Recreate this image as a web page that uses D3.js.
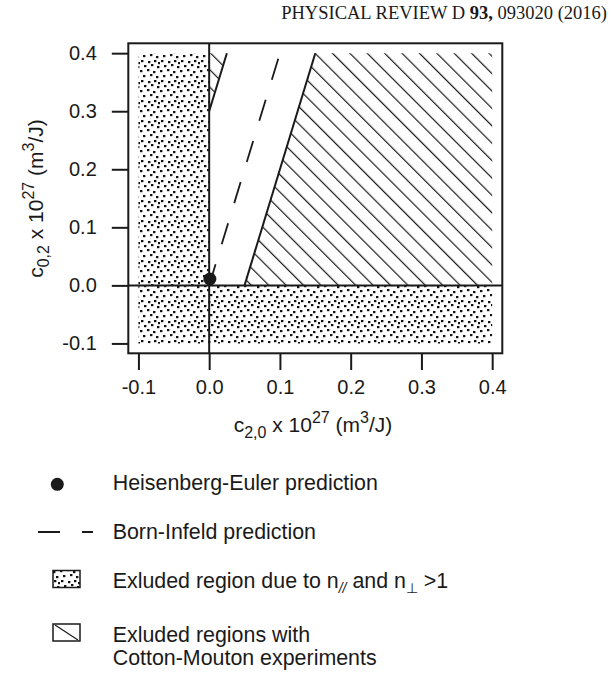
<!DOCTYPE html>
<html>
<head>
<meta charset="utf-8">
<script src="https://cdn.jsdelivr.net/npm/d3@7"></script>
<style>
    body { margin: 0; background: #fff; }
    text { font-family: "Liberation Sans", Arial, Helvetica, sans-serif; fill: #1a1a1a; }
    .header { font-family: "Liberation Serif", "Times New Roman", serif; }
</style>
</head>
<body>
<script>
//chart values (units of 10^-27 m^3/J)
var xTicks = [-0.1, 0.0, 0.1, 0.2, 0.3, 0.4];
var xTickLabels = ["-0.1", "0.0", "0.1", "0.2", "0.3", "0.4"];
var yTicks = [-0.1, 0.0, 0.1, 0.2, 0.3, 0.4];
var yTickLabels = ["-0.1", "0.0", "0.1", "0.2", "0.3", "0.4"];

//excluded by n// and n_perp > 1 (L-shaped region)
var stippleRegion = [[-0.1, 0.4], [0, 0.4], [0, 0], [0.4, 0], [0.4, -0.1], [-0.1, -0.1]];
//excluded by Cotton-Mouton experiments
var hatchRegions = [
    [[0.05, 0], [0.4, 0], [0.4, 0.4], [0.15, 0.4]],
    [[0, 0.3], [0.025, 0.4], [0, 0.4]]
];
var hatchEdges = [
    [[0.05, 0], [0.15, 0.4]],
    [[0, 0.3], [0.025, 0.4]]
];
var bornInfeld = [[0, 0], [0.1, 0.4]];
var heisenbergEuler = [0.001, 0.011];

var legendLabels = [
    "Heisenberg-Euler prediction",
    "Born-Infeld prediction",
    "Exluded region due to n",
    "Exluded regions with",
    "Cotton-Mouton experiments"
];

//page frame
var width = 611,
    height = 675;

var svg = d3.select("body")
    .append("svg")
    .attr("width", width)
    .attr("height", height);

//patterns for stipple and hatching
var defs = svg.append("defs");

var dots = defs.append("pattern")
    .attr("id", "stipple")
    .attr("patternUnits", "userSpaceOnUse")
    .attr("width", 20)
    .attr("height", 20);
[[1,0],[8,1],[14,0],[4,5],[11,4],[17,6],[0,10],[7,9],[13,11],[3,15],[10,14],[16,16],[18,2]].forEach(function(p){
    dots.append("rect")
        .attr("x", p[0])
        .attr("y", p[1])
        .attr("width", 2.4)
        .attr("height", 2.2)
        .attr("fill", "#111");
});

defs.append("pattern")
    .attr("id", "hatch")
    .attr("patternUnits", "userSpaceOnUse")
    .attr("width", 12.3)
    .attr("height", 12.3)
    .attr("patternTransform", "rotate(-45)")
    .append("line")
    .attr("x1", 0.6).attr("y1", 0)
    .attr("x2", 0.6).attr("y2", 12.3)
    .attr("stroke", "#1a1a1a")
    .attr("stroke-width", 1.2);

//scales
var x = d3.scaleLinear()
    .domain([-0.1143, 0.4143])
    .range([128.3, 502.3]);

var y = d3.scaleLinear()
    .domain([-0.117, 0.417])
    .range([353.3, 43.3]);

var line = d3.line()
    .x(function(d){ return x(d[0]); })
    .y(function(d){ return y(d[1]); });

var area = function(pts){ return line(pts) + "Z"; };

//header
var header = svg.append("text")
    .attr("class", "header")
    .attr("x", 607)
    .attr("y", 19)
    .attr("text-anchor", "end")
    .style("font-size", "18.5px");
header.append("tspan").text("PHYSICAL REVIEW D ");
header.append("tspan").style("font-weight", "bold").text("93,");
header.append("tspan").text(" 093020 (2016)");

//regions
svg.append("path")
    .attr("d", area(stippleRegion))
    .attr("fill", "url(#stipple)");

svg.selectAll(".hatch")
    .data(hatchRegions)
    .enter()
    .append("path")
    .attr("class", "hatch")
    .attr("d", area)
    .attr("fill", "url(#hatch)");

svg.selectAll(".edge")
    .data(hatchEdges)
    .enter()
    .append("path")
    .attr("class", "edge")
    .attr("d", line)
    .attr("fill", "none")
    .attr("stroke", "#1a1a1a")
    .attr("stroke-width", 2);

//zero lines
svg.append("line")
    .attr("x1", x(0)).attr("x2", x(0))
    .attr("y1", y.range()[0]).attr("y2", y.range()[1])
    .attr("stroke", "#1a1a1a")
    .attr("stroke-width", 2);
svg.append("line")
    .attr("x1", x.range()[0]).attr("x2", x.range()[1])
    .attr("y1", y(0)).attr("y2", y(0))
    .attr("stroke", "#1a1a1a")
    .attr("stroke-width", 2);

//Born-Infeld dashed line
svg.append("path")
    .attr("d", line(bornInfeld))
    .attr("fill", "none")
    .attr("stroke", "#1a1a1a")
    .attr("stroke-width", 1.8)
    .attr("stroke-dasharray", "22,21");

//Heisenberg-Euler point
svg.append("circle")
    .attr("cx", x(heisenbergEuler[0]))
    .attr("cy", y(heisenbergEuler[1]))
    .attr("r", 6.5)
    .attr("fill", "#1a1a1a");

//plot box
svg.append("rect")
    .attr("x", x.range()[0])
    .attr("y", y.range()[1])
    .attr("width", x.range()[1] - x.range()[0])
    .attr("height", y.range()[0] - y.range()[1])
    .attr("fill", "none")
    .attr("stroke", "#1a1a1a")
    .attr("stroke-width", 2);

//axes
var xAxis = svg.append("g")
    .attr("transform", "translate(0," + y.range()[0] + ")")
    .call(d3.axisBottom(x)
        .tickValues(xTicks)
        .tickFormat(function(d, i){ return xTickLabels[i]; })
        .tickSize(16.7)
        .tickSizeOuter(0)
        .tickPadding(10));

var yAxis = svg.append("g")
    .attr("transform", "translate(" + x.range()[0] + ",0)")
    .call(d3.axisLeft(y)
        .tickValues(yTicks)
        .tickFormat(function(d, i){ return yTickLabels[i]; })
        .tickSize(16.5)
        .tickSizeOuter(0)
        .tickPadding(15));

[xAxis, yAxis].forEach(function(g){
    g.select(".domain").remove();
    g.selectAll(".tick line").attr("stroke", "#1a1a1a").attr("stroke-width", 2);
    g.selectAll(".tick text")
        .attr("fill", "#1a1a1a")
        .style("font-family", "'Liberation Sans', Arial, sans-serif")
        .style("font-size", "20px");
});

//axis titles with sub and superscripts
function axisTitle(sel, sub){
    sel.style("font-size", "21px");
    sel.append("tspan").text("c");
    sel.append("tspan").attr("dy", 6).style("font-size", "16px").text(sub);
    sel.append("tspan").attr("dy", -6).text(" x 10");
    sel.append("tspan").attr("dy", -9).style("font-size", "16px").text("27");
    sel.append("tspan").attr("dy", 9).text("  (m");
    sel.append("tspan").attr("dy", -9).style("font-size", "16px").text("3");
    sel.append("tspan").attr("dy", 9).text("/J)");
}

svg.append("text")
    .attr("x", 313)
    .attr("y", 431.7)
    .attr("text-anchor", "middle")
    .call(axisTitle, "2,0");

svg.append("text")
    .attr("transform", "translate(43.3,198.5) rotate(-90)")
    .attr("text-anchor", "middle")
    .call(axisTitle, "0,2");

//legend
var legend = svg.append("g").attr("class", "legend");
var legendX = 112.7;

legend.append("circle")
    .attr("cx", 57.3)
    .attr("cy", 484.3)
    .attr("r", 6.5)
    .attr("fill", "#1a1a1a");

legend.append("line")
    .attr("x1", 38).attr("x2", 93)
    .attr("y1", 532).attr("y2", 532)
    .attr("stroke", "#1a1a1a")
    .attr("stroke-width", 2)
    .attr("stroke-dasharray", "22,22");

legend.append("rect")
    .attr("x", 53).attr("y", 570.5)
    .attr("width", 27).attr("height", 17)
    .attr("fill", "url(#stipple)")
    .attr("stroke", "#1a1a1a")
    .attr("stroke-width", 1.5);

legend.append("rect")
    .attr("x", 53).attr("y", 624)
    .attr("width", 27).attr("height", 17)
    .attr("fill", "none")
    .attr("stroke", "#1a1a1a")
    .attr("stroke-width", 1.5);
legend.append("line")
    .attr("x1", 55).attr("y1", 625)
    .attr("x2", 78).attr("y2", 640)
    .attr("stroke", "#1a1a1a")
    .attr("stroke-width", 1.2);

var legendText = legend.selectAll(".ltext")
    .data([
        {t: legendLabels[0], y: 489.5},
        {t: legendLabels[1], y: 539.3},
        {t: legendLabels[3], y: 641.7},
        {t: legendLabels[4], y: 665}
    ])
    .enter()
    .append("text")
    .attr("class", "ltext")
    .attr("x", legendX)
    .attr("y", function(d){ return d.y; })
    .style("font-size", "21.4px")
    .text(function(d){ return d.t; });

var nText = legend.append("text")
    .attr("x", legendX)
    .attr("y", 587.7)
    .style("font-size", "21.4px");
nText.append("tspan").text(legendLabels[2]);
nText.append("tspan").attr("dy", 5).style("font-size", "14px").style("font-style", "italic").text("//");
nText.append("tspan").attr("dy", -5).text(" and n");
nText.append("tspan").attr("dy", 5).style("font-size", "14px").text("\u22a5");
nText.append("tspan").attr("dy", -5).text(" >1");
</script>
</body>
</html>
